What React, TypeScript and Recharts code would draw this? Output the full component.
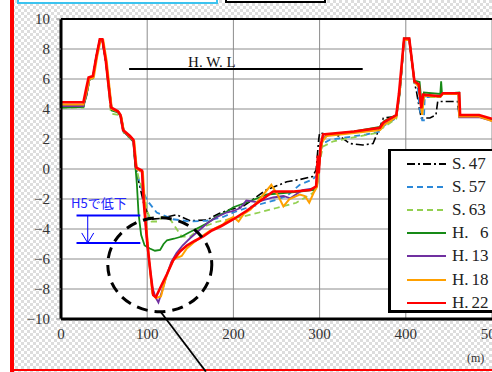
import {
  CartesianGrid,
  Legend,
  Line,
  LineChart,
  ReferenceDot,
  ReferenceLine,
  XAxis,
  YAxis,
} from "recharts";

type Pt = [number, number];

const xTicks = [0, 100, 200, 300, 400, 500];
const yTicks = [-10, -8, -6, -4, -2, 0, 2, 4, 6, 8, 10];
const hwlLevel = 6.67;
const bedBefore = -3.1;
const bedAfter = -4.93;

// cross-section profiles: [distance (m), elevation]
const s47: Pt[] = [
  [0, 4.15], [26, 4.15], [30, 5.0], [33, 5.95], [37, 6.05], [41, 7.5], [45, 8.55], [48, 8.55], [52, 7.2],
  [58, 4.0], [66, 3.8], [69, 3.5], [72, 2.5], [80, 2.1], [84, 1.9], [86, 0.3], [90, -0.8], [96, -2.3],
  [103, -3.35], [115, -3.3], [134, -3.05], [150, -3.45], [169, -3.4], [184, -2.95], [196, -2.7], [211, -2.5],
  [238, -1.4], [262, -0.85], [277, -0.7], [292, -0.5], [296, -0.05], [299, 2.0], [300, 2.4], [323, 2.2],
  [335, 1.7], [350, 1.6], [362, 1.7], [370, 2.8], [374, 3.4], [389, 3.5], [393, 5.0], [398, 8.6], [404, 8.6],
  [410, 5.7], [412, 5.3], [416, 3.95], [418, 3.4], [428, 3.4], [435, 3.6], [437, 4.5], [460, 4.5], [462, 3.5],
  [485, 3.5], [500, 3.25],
];
const s57: Pt[] = [
  [0, 4.15], [26, 4.15], [30, 5.0], [33, 5.95], [37, 6.05], [41, 7.5], [45, 8.55], [48, 8.55], [52, 7.2],
  [58, 4.0], [66, 3.8], [69, 3.5], [72, 2.5], [80, 2.1], [84, 1.9], [86, 0.3], [92, -1.1], [100, -2.1],
  [111, -2.9], [130, -3.35], [150, -3.5], [169, -3.45], [188, -3.2], [200, -2.9], [215, -2.6], [231, -2.35],
  [250, -2.05], [262, -1.8], [277, -1.05], [292, -0.7], [297, -0.4], [300, 1.0], [304, 1.7], [312, 1.95],
  [354, 2.3], [370, 2.5], [375, 2.9], [389, 3.4], [393, 5.0], [398, 8.6], [404, 8.6], [410, 5.8], [414, 5.4],
  [416, 4.0], [419, 3.25], [421, 3.25], [422, 4.8], [440, 4.8], [442, 5.0], [461, 5.0], [462, 3.5], [485, 3.5],
  [500, 3.25],
];
const s63: Pt[] = [
  [0, 4.1], [26, 4.1], [30, 5.0], [33, 5.95], [37, 6.05], [41, 7.5], [45, 8.55], [48, 8.55], [52, 7.2],
  [58, 3.7], [67, 3.6], [70, 3.3], [73, 2.4], [80, 2.05], [84, 1.8], [86, 0.5], [90, -0.6], [96, -1.6],
  [100, -2.8], [105, -3.5], [112, -3.5], [118, -3.2], [126, -3.3], [133, -3.9], [140, -4.5], [150, -4.5],
  [160, -4.0], [170, -3.75], [182, -3.5], [195, -3.35], [212, -3.15], [230, -2.9], [250, -2.6], [273, -2.25],
  [292, -1.6], [297, -1.2], [300, 0.5], [304, 1.5], [316, 1.85], [366, 2.4], [372, 2.7], [389, 3.35],
  [393, 5.0], [398, 8.6], [404, 8.6], [410, 5.8], [415, 5.5], [419, 3.8], [421, 4.8], [440, 4.8], [442, 5.0],
  [461, 5.0], [462, 3.5], [485, 3.5], [500, 3.25],
];
const h6: Pt[] = [
  [0, 4.1], [26, 4.15], [30, 5.1], [33, 6.0], [37, 6.1], [41, 7.5], [45, 8.6], [48, 8.6], [52, 7.2],
  [59, 3.9], [67, 3.75], [70, 3.4], [73, 2.5], [80, 2.1], [84, 1.8], [86, 0.4], [88, -1.0], [90, -3.0],
  [93, -4.4], [97, -5.1], [103, -5.3], [109, -5.45], [115, -5.4], [119, -5.0], [123, -4.75], [131, -4.65],
  [140, -4.5], [148, -4.25], [160, -3.9], [170, -3.6], [181, -3.15], [192, -2.85], [200, -2.55], [219, -2.15],
  [239, -1.7], [258, -1.6], [277, -1.5], [293, -1.4], [297, -1.0], [300, 1.0], [304, 2.0], [310, 2.3],
  [340, 2.5], [370, 2.8], [375, 3.2], [389, 3.6], [393, 5.2], [398, 8.7], [404, 8.7], [410, 5.9], [416, 5.8],
  [419, 4.0], [421, 5.1], [440, 5.0], [441, 5.85], [442, 5.0], [462, 5.1], [463, 3.55], [485, 3.55], [500, 3.3],
];
const h13: Pt[] = [
  [0, 4.2], [26, 4.2], [30, 5.1], [33, 6.0], [37, 6.1], [41, 7.5], [45, 8.6], [48, 8.6], [52, 7.2],
  [59, 4.0], [67, 3.8], [70, 3.4], [73, 2.5], [80, 2.1], [84, 1.85], [88, 0.0], [94, -0.2], [97, -2.8],
  [101, -5.6], [106, -7.9], [110, -8.6], [113, -8.9], [118, -8.0], [123, -7.0], [128, -6.2], [134, -5.6],
  [141, -5.1], [150, -4.6], [160, -4.1], [170, -3.6], [181, -3.2], [192, -2.9], [200, -2.8], [208, -2.6],
  [215, -2.1], [227, -2.2], [246, -1.9], [258, -1.8], [266, -1.95], [280, -1.4], [293, -1.3], [297, -1.1],
  [300, 0.5], [303, 1.9], [308, 2.25], [340, 2.45], [370, 2.7], [375, 3.0], [389, 3.5], [393, 5.1], [398, 8.6],
  [404, 8.6], [410, 5.8], [415, 5.6], [418, 4.0], [421, 4.9], [440, 4.85], [443, 5.0], [461, 5.0], [462, 3.45],
  [485, 3.45], [500, 3.2],
];
const h18: Pt[] = [
  [0, 4.3], [26, 4.3], [30, 5.2], [33, 6.0], [38, 6.1], [42, 7.5], [46, 8.6], [49, 8.6], [53, 7.2],
  [59, 4.0], [67, 3.8], [70, 3.5], [73, 2.5], [81, 2.1], [85, 1.85], [88, 0.0], [95, -0.2], [98, -3.0],
  [102, -6.0], [106, -8.3], [110, -8.6], [116, -8.5], [121, -7.4], [126, -6.6], [131, -6.0], [140, -5.8],
  [146, -5.3], [154, -4.9], [163, -4.5], [173, -4.1], [188, -3.7], [193, -3.4], [200, -3.2], [206, -3.5],
  [212, -3.0], [220, -2.7], [232, -1.9], [244, -1.05], [252, -1.8], [258, -2.5], [265, -2.0], [277, -1.7],
  [283, -1.8], [288, -2.25], [293, -1.6], [297, -1.2], [300, 0.6], [303, 1.8], [308, 2.2], [340, 2.4],
  [370, 2.6], [375, 2.95], [389, 3.45], [393, 5.2], [398, 8.6], [404, 8.6], [410, 5.8], [415, 5.5], [419, 3.6],
  [421, 4.9], [440, 4.8], [443, 5.0], [461, 5.0], [462, 3.5], [485, 3.5], [500, 3.2],
];
const h22: Pt[] = [
  [0, 4.45], [26, 4.45], [29, 5.3], [32, 6.1], [37, 6.2], [41, 7.5], [45, 8.65], [48, 8.65], [52, 7.2],
  [58, 4.1], [66, 3.85], [69, 3.6], [72, 2.6], [80, 2.2], [84, 1.95], [87, 0.1], [94, -0.1], [96, -2.2],
  [100, -4.9], [104, -7.0], [107, -8.4], [110, -8.55], [117, -7.7], [123, -7.0], [130, -6.1], [138, -5.5],
  [146, -5.1], [155, -4.8], [165, -4.5], [175, -4.1], [186, -3.8], [200, -3.35], [215, -2.8], [227, -2.3],
  [246, -1.5], [270, -1.5], [289, -1.4], [296, -1.15], [298, 0.9], [299, -0.3], [301, 1.5], [304, 2.3],
  [340, 2.5], [370, 2.75], [374, 3.1], [389, 3.6], [392, 5.0], [398, 8.7], [404, 8.7], [410, 5.85],
  [415, 5.65], [418, 4.05], [420, 4.95], [440, 4.85], [443, 5.05], [462, 5.05], [463, 3.6], [485, 3.6],
  [500, 3.35],
];

const series = [
  { key: "s47", era: "S.", year: "47", pts: s47, color: "#000000", dash: "8 3 2 3", width: 1.6 },
  { key: "s57", era: "S.", year: "57", pts: s57, color: "#2b88d8", dash: "6 4", width: 1.8 },
  { key: "s63", era: "S.", year: "63", pts: s63, color: "#92d050", dash: "6 4", width: 1.8 },
  { key: "h6", era: "H.", year: "6", pts: h6, color: "#168a16", dash: undefined, width: 1.8 },
  { key: "h13", era: "H.", year: "13", pts: h13, color: "#7030a0", dash: undefined, width: 1.8 },
  { key: "h18", era: "H.", year: "18", pts: h18, color: "#ffa000", dash: undefined, width: 2 },
  { key: "h22", era: "H.", year: "22", pts: h22, color: "#ff0000", dash: undefined, width: 2.6 },
];

const minus = (v: number) => String(v).replace("-", "\u2212");

function LegendBox() {
  return (
    <div
      style={{
        width: 112,
        height: 164,
        border: "2px solid #000",
        borderLeftWidth: 3,
        borderBottomWidth: 3,
        background: "#fff",
        boxSizing: "border-box",
        position: "relative",
        fontFamily: "'Liberation Serif', serif",
      }}
    >
      {series.map((s, i) => (
        <div
          key={s.key}
          style={{ position: "absolute", left: 16, top: 2 + i * 23.1, height: 22, display: "flex", alignItems: "center" }}
        >
          <svg width={40} height={6}>
            <line x1={0} y1={3} x2={39} y2={3} stroke={s.color} strokeWidth={2} strokeDasharray={s.dash} />
          </svg>
          <span style={{ marginLeft: 5, fontSize: 17, color: "#222" }}>{s.era}</span>
          <span style={{ display: "inline-block", width: 20, textAlign: "right", fontSize: 17, color: "#222" }}>{s.year}</span>
        </div>
      ))}
    </div>
  );
}

export default function App() {
  return (
    <div
      style={{
        position: "absolute",
        left: 0,
        top: 0,
        width: 492,
        height: 372,
        overflow: "hidden",
        background: "repeating-conic-gradient(#dddddd 0 25%, #ffffff 0 50%) 0 0 / 6px 6px",
        fontFamily: "'Liberation Serif', serif",
      }}
    >
      <div style={{ position: "absolute", left: 0, top: 0, width: 10, height: 372, background: "#fff" }} />
      <div style={{ position: "absolute", left: 10, top: 0, width: 4, height: 372, background: "#ff0000" }} />
      <div style={{ position: "absolute", left: 14, top: 369, width: 478, height: 2, background: "#ff0000" }} />
      <div style={{ position: "absolute", left: 17, top: -10, width: 201, height: 14, border: "2px solid #3cc3ef", background: "#fff", boxSizing: "border-box" }} />
      <div style={{ position: "absolute", left: 225, top: -10, width: 101, height: 13, border: "2px solid #000", background: "#fff", boxSizing: "border-box" }} />
      <div style={{ position: "absolute", left: 467, top: 351, fontSize: 12, color: "#333" }}>(m)</div>
      <div style={{ position: "absolute", left: 0, top: 0 }}>
        <LineChart width={492} height={372} margin={{ top: 19, right: 0, bottom: 23, left: 0 }}>
          <CartesianGrid stroke="#8c8c8c" fill="#ffffff" fillOpacity={1} />
          <XAxis
            dataKey="x"
            type="number"
            domain={[0, 500]}
            ticks={xTicks}
            interval={0}
            height={30}
            tickLine={false}
            tickSize={6}
            tickMargin={3}
            axisLine={{ stroke: "#000", strokeWidth: 3 }}
            tick={{ fontSize: 15, fill: "#333" }}
            allowDuplicatedCategory={false}
          />
          <YAxis
            type="number"
            domain={[-10, 10]}
            ticks={yTicks}
            interval={0}
            width={61}
            tickSize={5}
            tickMargin={6}
            tickLine={{ stroke: "#8c8c8c" }}
            axisLine={{ stroke: "#000", strokeWidth: 3 }}
            tick={{ fontSize: 15, fill: "#333" }}
            tickFormatter={minus}
          />
          <ReferenceLine y={10} stroke="#000" strokeWidth={2} />
          <ReferenceLine segment={[{ x: 79, y: hwlLevel }, { x: 350, y: hwlLevel }]} stroke="#000" strokeWidth={2} />
          <ReferenceDot
            x={175}
            y={7.15}
            r={1}
            shape={(p: any) => (
              <text x={p.cx} y={p.cy} textAnchor="middle" dominantBaseline="central" fontSize={15} fill="#111">
                H. W. L
              </text>
            )}
          />
          {series.map((s) => (
            <Line
              key={s.key}
              data={s.pts.map(([x, y]) => ({ x, y }))}
              dataKey="y"
              name={`${s.era} ${s.year}`}
              stroke={s.color}
              strokeWidth={s.width}
              strokeDasharray={s.dash}
              dot={false}
              type="linear"
              isAnimationActive={false}
            />
          ))}
          {/* H5 bed drop annotation */}
          <ReferenceLine segment={[{ x: 18, y: bedBefore }, { x: 92, y: bedBefore }]} stroke="#0000ff" strokeWidth={2} />
          <ReferenceLine segment={[{ x: 18, y: bedAfter }, { x: 92, y: bedAfter }]} stroke="#0000ff" strokeWidth={2} />
          <ReferenceLine segment={[{ x: 31, y: bedBefore }, { x: 31, y: bedAfter }]} stroke="#0000ff" strokeWidth={1} />
          <ReferenceDot
            x={31}
            y={bedAfter}
            r={1}
            shape={(p: any) => (
              <polyline
                points={`${p.cx - 6},${p.cy - 10} ${p.cx},${p.cy} ${p.cx + 6},${p.cy - 10}`}
                fill="none"
                stroke="#0000ff"
                strokeWidth={1}
              />
            )}
          />
          <ReferenceDot
            x={44}
            y={-2.25}
            r={1}
            shape={(p: any) => (
              <text
                x={p.cx}
                y={p.cy}
                textAnchor="middle"
                dominantBaseline="central"
                fontSize={13}
                fill="#2424ff"
                fontFamily="'Noto Sans CJK JP', sans-serif"
              >
                H5で低下
              </text>
            )}
          />
          <ReferenceDot
            x={114.6}
            y={-6.38}
            r={1}
            shape={(p: any) => (
              <ellipse cx={p.cx} cy={p.cy} rx={52} ry={47} fill="none" stroke="#000" strokeWidth={3} strokeDasharray="11 7" />
            )}
          />
          <ReferenceLine
            segment={[{ x: 116, y: -9.55 }, { x: 168, y: -13.5 }]}
            stroke="#000"
            strokeWidth={1.8}
            ifOverflow="visible"
          />
          <Legend
            layout="vertical"
            align="center"
            verticalAlign="middle"
            wrapperStyle={{ left: 388, top: 149, width: 112, height: 164 }}
            content={() => <LegendBox />}
          />
        </LineChart>
      </div>
    </div>
  );
}
